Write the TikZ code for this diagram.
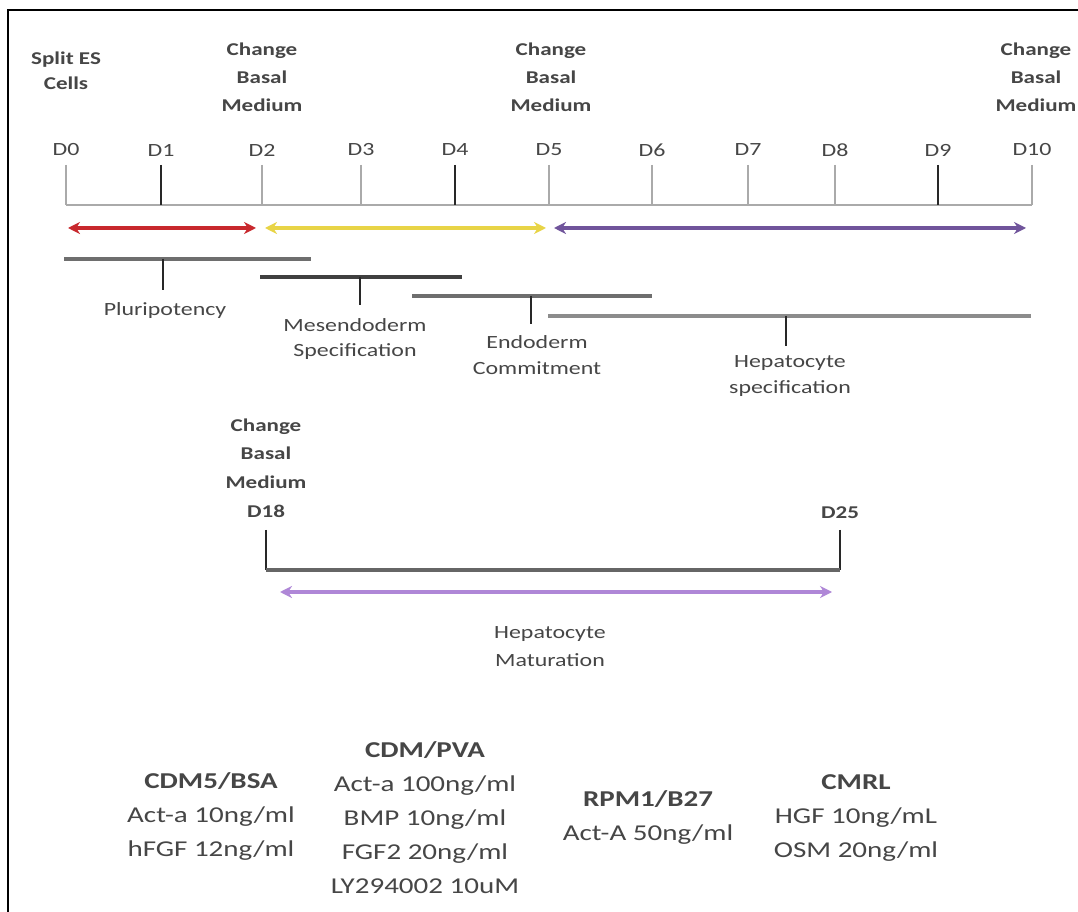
\documentclass[tikz,border=0pt]{standalone}
\usepackage{fontspec}
\setmainfont{Carlito}[FakeStretch=1.28]
\usetikzlibrary{arrows.meta}
\definecolor{axisgray}{RGB}{170,170,170}
\definecolor{tickdark}{RGB}{40,40,40}
\definecolor{bargray}{RGB}{110,110,110}
\definecolor{arrred}{RGB}{200,40,45}
\definecolor{arryel}{RGB}{232,212,70}
\definecolor{arrpur}{RGB}{112,84,155}
\definecolor{arrlpur}{RGB}{175,135,215}
\definecolor{txtgray}{RGB}{70,70,70}
\tikzset{
  daylbl/.style={font=\fontsize{14}{16}\selectfont, text=txtgray, inner sep=0pt},
  toplbl/.style={font=\fontsize{13.5}{21}\selectfont\bfseries, align=center, text=txtgray, inner sep=0pt},
  phaselbl/.style={font=\fontsize{14}{19}\selectfont, align=center, text=txtgray, inner sep=0pt},
  medlbl/.style={font=\fontsize{17}{25.5}\selectfont, align=center, text=txtgray, inner sep=0pt},
  lighttick/.style={draw=axisgray, line width=1.2pt},
  darktick/.style={draw=tickdark, line width=1.4pt},
  phasebar/.style={draw=bargray, line width=2.6pt},
  phasetick/.style={draw=tickdark, line width=1.6pt},
  dblarrow/.style={line width=2.4pt, {Stealth[length=9pt,width=9pt]}-{Stealth[length=9pt,width=9pt]}},
}
\begin{document}
\begin{tikzpicture}[x=0.75pt,y=-0.75pt]
\useasboundingbox (0,0) rectangle (1078,912);
\fill[white] (0,0) rectangle (1078,912);
\draw[line width=1.2pt] (8,10) rectangle (1085,920);

% day axis coordinates
\foreach \n/\x in {0/66,1/161,2/262,3/361,4/455,5/549,6/652,7/748,8/835,9/938,10/1032}{
  \coordinate (t\n) at (\x,165);
  \coordinate (b\n) at (\x,205);
  \node[daylbl] (d\n) at (\x,150) {D\n};
}
\draw[draw=axisgray, line width=1.4pt] (b0) -- (b10);
\foreach \n in {0,2,3,5,6,7,8,10}{ \draw[lighttick] (t\n) -- (b\n); }
\foreach \n in {1,4,9}{ \draw[darktick] (t\n) -- (b\n); }

% top labels
\node[toplbl, font=\fontsize{13.5}{18.5}\selectfont\bfseries] (split) at (66,71) {Split ES\\Cells};
\node[toplbl] (cb2) at (262,77) {Change\\Basal\\Medium};
\node[toplbl] (cb5) at (551,77) {Change\\Basal\\Medium};
\node[toplbl] (cb10) at (1036,77) {Change\\Basal\\Medium};

% colored arrows
\coordinate (ra) at (68,228); \coordinate (rb) at (256,228);
\coordinate (ya) at (265,228); \coordinate (yb) at (546,228);
\coordinate (pa) at (554,228); \coordinate (pb) at (1026,228);
\draw[dblarrow, arrred] (ra) -- (rb);
\draw[dblarrow, arryel] (ya) -- (yb);
\draw[dblarrow, arrpur] (pa) -- (pb);

% phase bars
\coordinate (p1a) at (64,259); \coordinate (p1b) at (311,259);
\coordinate (p1m) at (163,259); \coordinate (p1t) at (163,290);
\draw[phasebar] (p1a) -- (p1b);
\draw[phasetick] (p1m) -- (p1t);
\node[phaselbl] (plur) at (165,311) {Pluripotency};

\coordinate (p2a) at (260,277); \coordinate (p2b) at (462,277);
\coordinate (p2m) at (360,277); \coordinate (p2t) at (360,305);
\draw[phasebar, draw=black!75] (p2a) -- (p2b);
\draw[phasetick] (p2m) -- (p2t);
\node[phaselbl] (mes) at (355,339) {Mesendoderm\\Specification};

\coordinate (p3a) at (412,296); \coordinate (p3b) at (652,296);
\coordinate (p3m) at (531,296); \coordinate (p3t) at (531,324);
\draw[phasebar] (p3a) -- (p3b);
\draw[phasetick] (p3m) -- (p3t);
\node[phaselbl] (endo) at (537,355) {Endoderm\\Commitment};

\coordinate (p4a) at (548,316); \coordinate (p4b) at (1031,316);
\coordinate (p4m) at (786,316); \coordinate (p4t) at (786,346);
\draw[phasebar, draw=black!45] (p4a) -- (p4b);
\draw[phasetick] (p4m) -- (p4t);
\node[phaselbl] (hepspec) at (790,376) {Hepatocyte\\specification};

% lower timeline
\node[toplbl, font=\fontsize{13.5}{21.5}\selectfont\bfseries] (cb18) at (266,468) {Change\\Basal\\Medium\\D18};
\node[daylbl, font=\fontsize{13.5}{16}\selectfont\bfseries] (d25) at (840,513) {D25};
\coordinate (l1t) at (266,530); \coordinate (l1b) at (266,570);
\coordinate (l2t) at (840,530); \coordinate (l2b) at (840,570);
\draw[draw=tickdark, line width=1.4pt] (l1t) -- (l1b);
\draw[draw=tickdark, line width=1.4pt] (l2t) -- (l2b);
\draw[draw=black!60, line width=3.5pt] (l1b) -- (l2b);
\coordinate (ma) at (280,592); \coordinate (mb) at (832,592);
\draw[dblarrow, arrlpur] (ma) -- (mb);
\node[phaselbl, font=\fontsize{14}{21}\selectfont] (hepmat) at (550,647) {Hepatocyte\\Maturation};

% media
\node[medlbl] (m1) at (211,816) {\textbf{CDM5/BSA}\\Act-a 10ng/ml\\hFGF 12ng/ml};
\node[medlbl] (m2) at (425,818) {\textbf{CDM/PVA}\\Act-a 100ng/ml\\BMP 10ng/ml\\FGF2 20ng/ml\\LY294002 10uM};
\node[medlbl] (m3) at (648,817) {\textbf{RPM1/B27}\\Act-A 50ng/ml};
\node[medlbl] (m4) at (856,818) {\textbf{CMRL}\\HGF 10ng/mL\\OSM 20ng/ml};
\end{tikzpicture}
\end{document}
